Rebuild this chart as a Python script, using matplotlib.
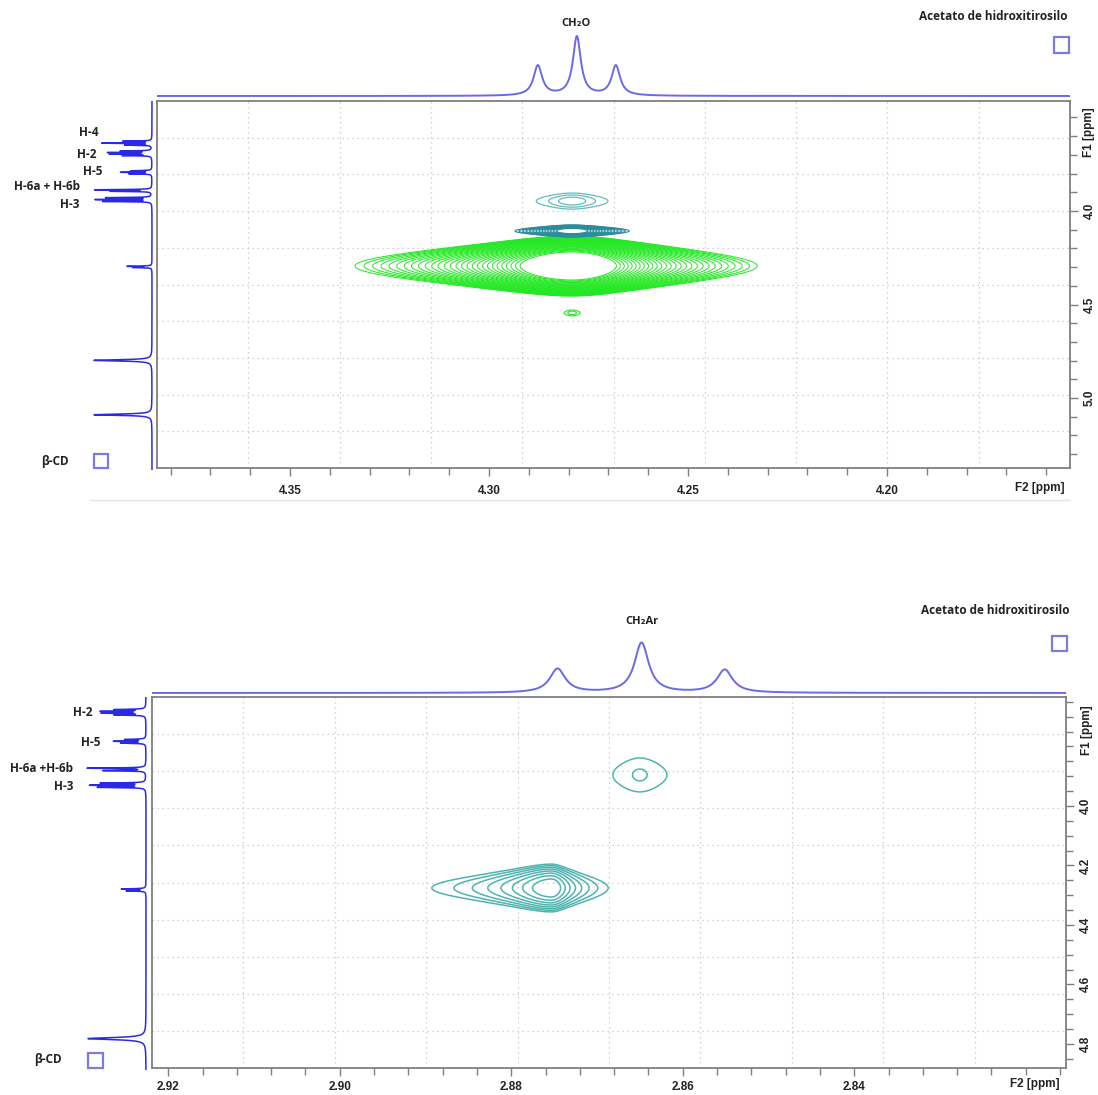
import numpy as np
import matplotlib
matplotlib.use("Agg")
import matplotlib.pyplot as plt
from matplotlib.patches import Rectangle
from matplotlib.ticker import MultipleLocator, FixedLocator, FormatStrFormatter

# ---------------- data ----------------
# Panel A: CH2O region of hydroxytyrosol acetate vs beta-CD
a_f2_lim = (4.3834, 4.154)
a_f1_lim = (5.374, 3.412)
a_f2_ticks = [4.35, 4.30, 4.25, 4.20]
a_f1_ticks = [4.0, 4.5, 5.0]

a_top_shift = [4.2877, 4.2779, 4.2681]
a_top_height = [30, 59, 30]
a_top_width = [0.0013, 0.0012, 0.0013]

a_left_shift = [3.626, 3.636, 3.646,
                3.678, 3.686, 3.694, 3.702,
                3.783, 3.791, 3.799,
                3.884, 3.892,
                3.926, 3.936, 3.946,
                4.291, 4.297,
                4.791, 5.080]
a_left_height = [28, 49, 26,
                 30, 42, 40, 28,
                 20, 30, 22,
                 56, 40,
                 45, 55, 48,
                 24, 18,
                 58, 58]
a_left_width = [0.0015] * 17 + [0.004, 0.004]

# cross peaks: green (positive), dark teal, light teal, small green
a_peak_f2 = [4.2791, 4.2791, 4.2791, 4.2791]
a_peak_f1 = [4.294, 4.107, 3.947, 4.545]
a_peak_wf2_left = [0.01473, 0.00603, 0.0059, 0.00164]
a_peak_wf2_right = [0.01256, 0.00603, 0.0059, 0.00164]
a_peak_wf1 = [0.0695, 0.0166, 0.0277, 0.0118]

# Panel B: CH2Ar region
b_f2_lim = (2.9219, 2.8153)
b_f1_lim = (4.881, 3.634)
b_f2_ticks = [2.92, 2.90, 2.88, 2.86, 2.84]
b_f1_ticks = [4.0, 4.2, 4.4, 4.6, 4.8]

b_top_shift = [2.8746, 2.8648, 2.8551]
b_top_height = [24, 50, 23]
b_top_width = [0.0011, 0.0010, 0.0011]

b_left_shift = [3.676, 3.682, 3.688, 3.694,
                3.776, 3.782, 3.788,
                3.872, 3.880,
                3.922, 3.929, 3.936,
                4.276, 4.282,
                4.776]
b_left_height = [30, 43, 42, 30,
                 20, 31, 24,
                 58, 42,
                 44, 54, 47,
                 24, 19,
                 58]
b_left_width = [0.0012] * 14 + [0.004]

b_peak_f2 = [2.8650, 2.8753]
b_peak_f1 = [3.896, 4.276]
b_peak_wf2_left = [0.00231, 0.00296]
b_peak_wf2_right = [0.00231, 0.0014]
b_peak_wf1 = [0.0393, 0.032]

# ---------------- style ----------------
W, H = 1098, 1095
TICK_FONT = ['Liberation Sans Narrow', 'Liberation Sans', 'DejaVu Sans']
LABEL_FONT = ['Open Sans', 'DejaVu Sans']
INK = '#222222'
FRAME = '#7f7f7f'
GRID = '#c4c4c4'
TRACE_TOP = '#6a6ae8'
TRACE_LEFT = '#2a2ae6'
GREEN = '#1fe81f'
TEAL_DARK = '#2b8c9c'
TEAL_LIGHT = '#62bdbd'
TEAL_B = '#4fb4b0'
BOX = '#7b7be0'

plt.rcParams['font.family'] = TICK_FONT

fig = plt.figure(figsize=(W / 100, H / 100), dpi=100)


def rect(x0, y0, x1, y1):
    return [x0 / W, 1 - y1 / H, (x1 - x0) / W, (y1 - y0) / H]


def lorentz_sum(grid, shifts, heights, widths):
    out = np.zeros_like(grid)
    for s, h, w in zip(shifts, heights, widths):
        out += h / (1 + ((grid - s) / w) ** 2)
    return out


def cross_peak(X, Y, x0, y0, wl, wr, wy):
    wx = np.where(X > x0, wl, wr)   # F2 axis runs right-to-left
    return 1 / (1 + ((X - x0) / wx) ** 2) * np.exp(-0.5 * ((Y - y0) / wy) ** 2)


def fig_text(x, y, s, **kw):
    fig.text(x / W, 1 - y / H, s, **kw)


def fig_box(xc, yc, size):
    fig.patches.append(Rectangle(((xc - size / 2) / W, 1 - (yc + size / 2) / H),
                                 size / W, size / H, transform=fig.transFigure,
                                 fill=False, edgecolor=BOX, lw=1.6))


def style_main(ax, xticks, xmin, yticks, ymin, xpad):
    for sp in ax.spines.values():
        sp.set_color(FRAME)
        sp.set_linewidth(1.3)
    ax.xaxis.set_major_locator(FixedLocator(xticks))
    ax.xaxis.set_minor_locator(MultipleLocator(xmin))
    ax.yaxis.set_major_locator(FixedLocator(yticks))
    ax.yaxis.set_minor_locator(MultipleLocator(ymin))
    ax.xaxis.set_major_formatter(FormatStrFormatter('%.2f'))
    ax.yaxis.set_major_formatter(FormatStrFormatter('%.1f'))
    ax.yaxis.tick_right()
    ax.tick_params(which='both', direction='out', color=FRAME, width=1.0,
                   top=False, left=False, labelsize=8.5, labelcolor=INK)
    ax.tick_params(which='major', length=6)
    ax.tick_params(which='minor', length=5)
    ax.tick_params(axis='x', pad=xpad)
    ax.tick_params(axis='y', pad=4)
    for lbl in ax.get_yticklabels():
        lbl.set_rotation(90)
        lbl.set_va('center')
    for lbl in ax.get_xticklabels() + ax.get_yticklabels():
        lbl.set_fontweight('bold')
    for f in np.arange(1, 10) / 10:
        ax.plot([f, f], [0, 1], transform=ax.transAxes, ls=(0, (1, 3)),
                color=GRID, lw=0.9, zorder=0)
        ax.plot([0, 1], [f, f], transform=ax.transAxes, ls=(0, (1, 3)),
                color=GRID, lw=0.9, zorder=0)


def trace_axes(r):
    ax = fig.add_axes(r)
    ax.set_axis_off()
    return ax


def label(x, y, s, ha='right', size=8.5):
    fig_text(x, y, s, family=LABEL_FONT, fontsize=size, fontweight='bold',
             ha=ha, va='center', color=INK)


# ================= panel A =================
axA = fig.add_axes(rect(157, 101, 1070, 468))
axA.set_xlim(*a_f2_lim)
axA.set_ylim(*a_f1_lim)

xa = np.linspace(a_f2_lim[1], a_f2_lim[0], 900)
ya = np.linspace(a_f1_lim[1], a_f1_lim[0], 900)
XA, YA = np.meshgrid(xa, ya)
a_levels = [np.geomspace(0.068, 0.56, 28), np.geomspace(0.15, 0.7, 14),
            [0.3, 0.5, 0.75], [0.4, 0.7]]
a_colors = [GREEN, TEAL_DARK, TEAL_LIGHT, GREEN]
a_lw = [0.7, 0.8, 0.9, 0.8]
for i in range(4):
    Z = cross_peak(XA, YA, a_peak_f2[i], a_peak_f1[i], a_peak_wf2_left[i],
                   a_peak_wf2_right[i], a_peak_wf1[i])
    axA.contour(XA, YA, Z, levels=a_levels[i], colors=a_colors[i],
                linewidths=a_lw[i])
style_main(axA, a_f2_ticks, 0.01, a_f1_ticks, 0.1, xpad=6)

topA = trace_axes(rect(157, 25, 1070, 100))
topA.set_xlim(*a_f2_lim)
topA.set_ylim(-4, 71)
sx = np.linspace(a_f2_lim[1], a_f2_lim[0], 4000)
topA.plot(sx, lorentz_sum(sx, a_top_shift, a_top_height, a_top_width),
          color=TRACE_TOP, lw=1.4)

leftA = trace_axes(rect(60, 101, 157, 470))
leftA.set_ylim(*a_f1_lim)
leftA.set_xlim(92, -5)
sy = np.linspace(a_f1_lim[1], a_f1_lim[0], 40000)
leftA.plot(lorentz_sum(sy, a_left_shift, a_left_height, a_left_width), sy,
           color=TRACE_LEFT, lw=1.1)

label(576, 23, 'CH₂O', ha='center', size=8)
label(993, 17, 'Acetato de hidroxitirosilo', ha='center')
fig_box(1061, 45, 15)
for s, x, y in [('H-4', 99, 132), ('H-2', 96, 154), ('H-5', 102, 172),
                ('H-6a + H-6b', 80, 186), ('H-3', 79, 204)]:
    label(x, y, s)
label(69, 462, 'β-CD')
fig_box(101, 461, 14)
fig_text(1040, 488, 'F2 [ppm]', fontsize=8.5, fontweight='bold', ha='center',
         va='center', color=INK)
fig_text(1089, 132, 'F1 [ppm]', fontsize=8.5, fontweight='bold', ha='center',
         va='center', rotation=90, color=INK)
fig.lines.append(plt.Line2D([90 / W, 1070 / W], [1 - 500 / H, 1 - 500 / H],
                            transform=fig.transFigure, color='#e2e2e2', lw=1.0))

# ================= panel B =================
axB = fig.add_axes(rect(152, 697, 1066, 1068))
axB.set_xlim(*b_f2_lim)
axB.set_ylim(*b_f1_lim)

xb = np.linspace(b_f2_lim[1], b_f2_lim[0], 900)
yb = np.linspace(b_f1_lim[1], b_f1_lim[0], 900)
XB, YB = np.meshgrid(xb, yb)
b_levels = [[0.35, 0.88], np.geomspace(0.043, 0.64, 8)]
for i in range(2):
    Z = cross_peak(XB, YB, b_peak_f2[i], b_peak_f1[i], b_peak_wf2_left[i],
                   b_peak_wf2_right[i], b_peak_wf1[i])
    axB.contour(XB, YB, Z, levels=b_levels[i], colors=TEAL_B, linewidths=1.1)
style_main(axB, b_f2_ticks, 0.004, b_f1_ticks, 0.05, xpad=3)

topB = trace_axes(rect(152, 625, 1066, 697))
topB.set_xlim(*b_f2_lim)
topB.set_ylim(-4, 68)
sxb = np.linspace(b_f2_lim[1], b_f2_lim[0], 4000)
topB.plot(sxb, lorentz_sum(sxb, b_top_shift, b_top_height, b_top_width),
          color=TRACE_TOP, lw=1.4)

leftB = trace_axes(rect(60, 697, 152, 1070))
leftB.set_ylim(*b_f1_lim)
leftB.set_xlim(86, -6)
syb = np.linspace(b_f1_lim[1], b_f1_lim[0], 40000)
leftB.plot(lorentz_sum(syb, b_left_shift, b_left_height, b_left_width), syb,
           color=TRACE_LEFT, lw=1.1)

label(642, 621, 'CH₂Ar', ha='center', size=8)
label(995, 610, 'Acetato de hidroxitirosilo', ha='center')
fig_box(1059, 643, 15)
for s, x, y in [('H-2', 93, 712), ('H-5', 100, 742), ('H-6a +H-6b', 73, 769),
                ('H-3', 73, 787)]:
    label(x, y, s)
label(62, 1059, 'β-CD')
fig_box(95, 1060, 15)
fig_text(1035, 1084, 'F2 [ppm]', fontsize=8.5, fontweight='bold', ha='center',
         va='center', color=INK)
fig_text(1087, 730, 'F1 [ppm]', fontsize=8.5, fontweight='bold', ha='center',
         va='center', rotation=90, color=INK)

fig.savefig('out.png', dpi=100, facecolor='white')
